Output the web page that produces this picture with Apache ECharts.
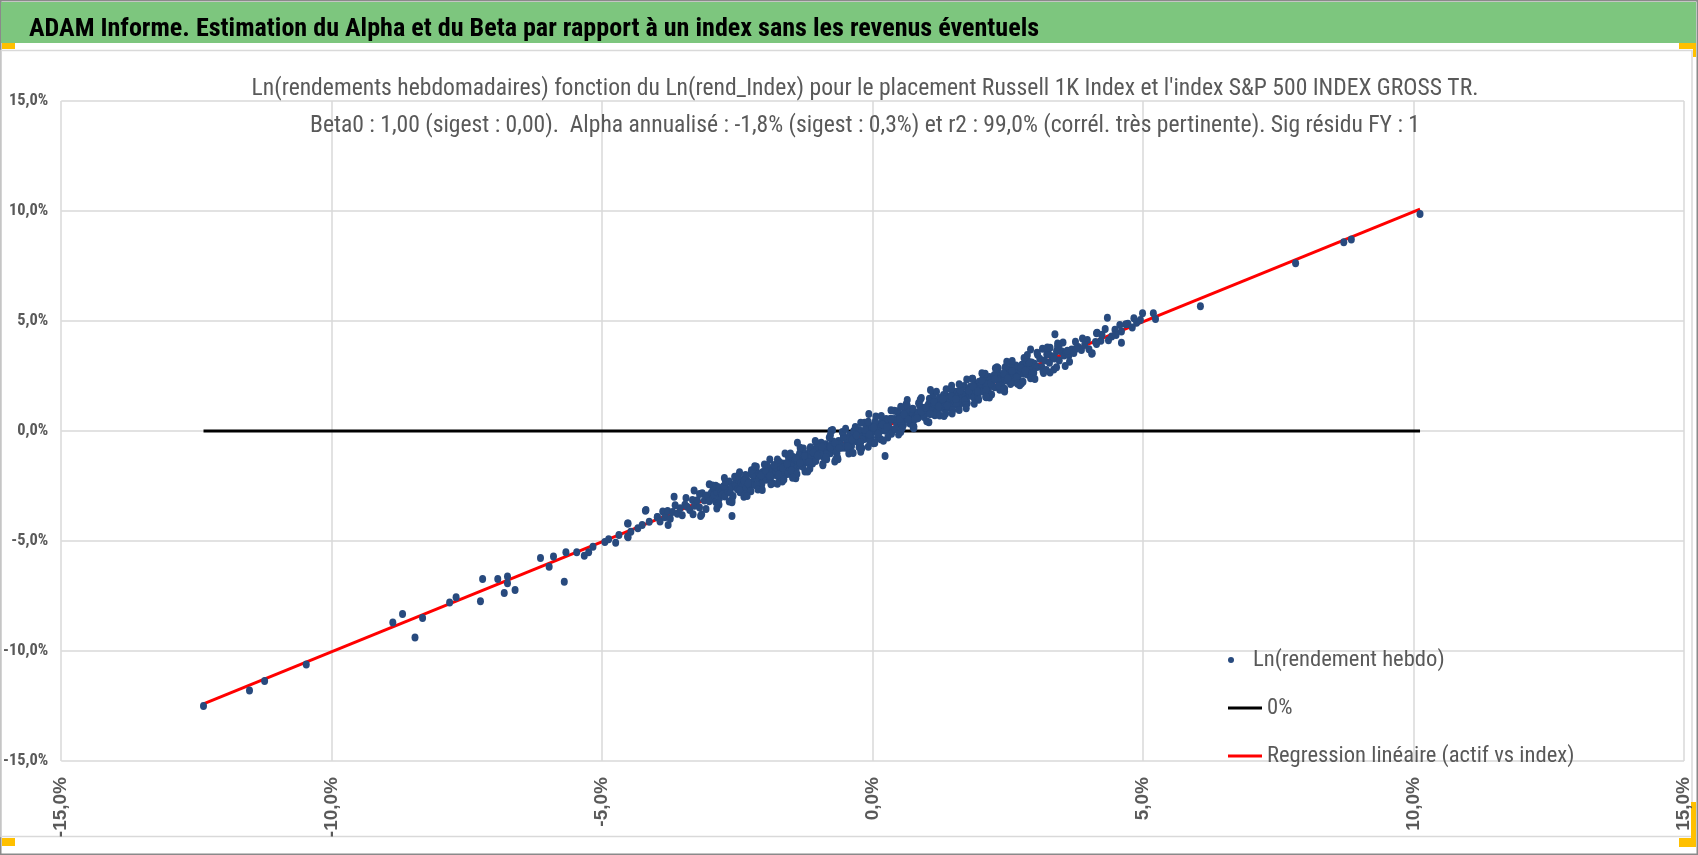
<!DOCTYPE html>
<html>
<head>
<meta charset="utf-8">
<script src="https://cdn.jsdelivr.net/npm/echarts@6/dist/echarts.min.js"></script>
<style>
html,body{margin:0;padding:0;background:#fff;}
#chart{width:1698px;height:855px;}
</style>
</head>
<body>
<div id="chart"></div>
<script>
// ---- data (weekly log-returns in %) ----
const mainTitle = "ADAM Informe. Estimation du Alpha et du Beta par rapport à un index sans les revenus éventuels";
const subTitleLines = [
  "Ln(rendements hebdomadaires) fonction du Ln(rend_Index) pour le placement Russell 1K Index et l'index S&P 500 INDEX GROSS TR.",
  "Beta0 : 1,00 (sigest : 0,00).  Alpha annualisé : -1,8% (sigest : 0,3%) et r2 : 99,0% (corrél. très pertinente). Sig résidu FY : 1"
];
const seriesNames = ["Ln(rendement hebdo)", "0%", "Regression linéaire (actif vs index)"];
const axisTicks = [-15, -10, -5, 0, 5, 10, 15];
const beta = 1.00;
const alphaAnnual = -1.8;

const lowTail = [
[-12.37,-12.50],[-11.52,-11.80],[-11.24,-11.36],[-10.47,-10.61],[-8.87,-8.70],[-8.69,-8.32],[-8.46,-9.39],[-8.32,-8.50],
[-7.82,-7.80],[-7.70,-7.56],[-7.25,-7.74],[-7.21,-6.73],[-6.93,-6.73],[-6.75,-6.61],[-6.75,-6.92],[-6.81,-7.36],[-6.61,-7.23],
[-6.14,-5.77],[-5.98,-6.17],[-5.90,-5.71],[-5.70,-6.85],[-5.67,-5.51],[-5.47,-5.51],[-5.33,-5.67],[-5.25,-5.51],[-5.17,-5.26],
[-4.95,-5.05],[-4.88,-4.92],[-4.75,-5.08],[-4.69,-4.73],[-4.52,-4.20],[-4.52,-4.83],[-4.47,-4.58],[-4.34,-4.42],[-4.26,-4.27],
[-4.20,-3.62],[-4.13,-4.12],[-3.98,-3.92],[-4.53,-4.20],[-4.53,-4.80],[-4.19,-3.59],[-3.78,-4.27],[-3.67,-2.99],[-3.18,-3.86],
[-2.60,-3.86],[-2.38,-2.99],[-1.67,-2.30],[-1.42,-2.15],[-0.70,-1.39],[-0.77,0.01],[-2.90,-2.49],[-1.56,-1.14],[-1.39,-0.53],
[-0.74,0.05],[-0.22,-0.94],[0.02,-0.56],[0.23,-1.14],[-0.07,0.77]
];
const bandLow = [
[-3.98,-3.91],[-3.93,-4.11],[-3.88,-3.66],[-3.84,-3.92],[-3.79,-3.64],[-3.74,-3.99],[-3.70,-3.68],[-3.65,-3.38],[-3.61,-3.76],
[-3.56,-3.51],[-3.52,-3.83],[-3.47,-3.35],[-3.43,-3.44],[-3.38,-3.59],[-3.33,-3.14],[-3.29,-3.40],[-3.24,-3.15],[-3.20,-3.48],
[-3.15,-2.83],[-3.11,-3.16],[-3.06,-2.93],[-3.02,-3.19],
[-2.98,-2.81],[-2.95,-3.08],[-2.93,-2.91],[-2.90,-3.23],[-2.88,-2.76],[-2.85,-2.56],[-2.83,-3.04],[-2.80,-2.81],[-2.78,-2.89],
[-2.75,-2.53],[-2.73,-2.98],[-2.70,-2.61],[-2.68,-2.73],[-2.65,-2.30],[-2.63,-2.81],[-2.60,-2.55],[-2.58,-2.96],[-2.55,-2.40],
[-2.53,-2.52],[-2.50,-2.65],[-2.48,-2.23],[-2.45,-2.68],[-2.43,-2.36],[-2.40,-2.48],[-2.38,-2.19],[-2.35,-2.66],[-2.33,-2.22],
[-2.30,-2.33],[-2.28,-2.47],[-2.25,-1.94],[-2.23,-2.34],[-2.20,-2.05],[-2.18,-2.45],[-2.15,-2.12],[-2.13,-1.90],[-2.10,-2.25],
[-2.08,-1.99],[-2.05,-2.38],[-2.03,-1.86],[-2.01,-2.08],
[-1.99,-1.87],[-1.97,-2.22],[-1.95,-1.93],[-1.93,-1.66],[-1.91,-2.04],[-1.89,-2.24],[-1.87,-1.70],[-1.85,-1.86],[-1.83,-2.00],
[-1.81,-1.58],[-1.79,-1.88],[-1.77,-1.68],[-1.75,-2.06],[-1.73,-1.40],[-1.71,-1.92],[-1.69,-1.64],[-1.67,-1.48],[-1.65,-1.70],
[-1.63,-1.90],[-1.61,-1.48],[-1.59,-1.58],[-1.57,-1.96],[-1.55,-1.30],[-1.53,-1.68],[-1.51,-1.44],[-1.49,-1.72],[-1.47,-1.18],
[-1.45,-1.52],[-1.43,-1.28],[-1.41,-1.70],[-1.39,-1.36],[-1.37,-1.16],[-1.35,-1.54],[-1.33,-1.44],[-1.31,-0.94],[-1.29,-1.62],
[-1.27,-1.16],[-1.25,-1.28],[-1.23,-1.38],[-1.21,-1.04],[-1.19,-1.44],[-1.17,-1.12],[-1.15,-0.88],[-1.13,-1.22],[-1.11,-1.48],
[-1.09,-1.00],[-1.07,-0.84],[-1.05,-1.26],[-1.03,-1.04],[-1.01,-1.14]
];
const bandMid = [
[-0.99,-0.84],[-0.96,-1.11],[-0.93,-0.91],[-0.90,-1.21],[-0.87,-0.60],[-0.84,-0.91],[-0.81,-0.70],[-0.78,-1.01],[-0.75,-0.54],
[-0.72,-0.83],[-0.69,-0.70],[-0.66,-1.01],[-0.63,-0.46],[-0.60,-0.53],[-0.57,-0.76],[-0.54,-0.21],[-0.51,-0.76],[-0.48,-0.45],
[-0.45,-0.58],[-0.42,-0.17],[-0.39,-0.68],[-0.36,-0.27],[-0.33,-0.36],[-0.30,-0.47],[-0.27,-0.08],[-0.24,-0.57],[-0.21,-0.08],
[-0.18,-0.17],[-0.15,-0.36],[-0.12,0.19],[-0.09,-0.18],[-0.06,0.01],[-0.03,-0.30],[0.00,0.23],[0.03,-0.02],[0.06,0.17],
[0.09,-0.30],[0.12,0.29],[0.15,0.20],[0.18,0.03],[0.21,0.48],[0.24,0.01],[0.27,0.26],[0.30,0.19],[0.33,0.54],[0.36,0.05],
[0.39,0.52],[0.42,0.45],[0.45,0.26],[0.48,0.83],[0.51,0.38],[0.54,0.63],[0.57,0.28],[0.60,0.79],[0.63,0.56],[0.66,0.81],
[0.69,0.34],[0.72,0.77],[0.75,0.98],[0.78,0.61],[0.81,0.82],[0.84,0.59],[0.87,1.16],[0.90,0.81],[0.93,1.04],[0.96,0.75],[0.99,1.06],
[-0.97,-1.06],[-0.91,-0.72],[-0.85,-1.06],[-0.79,-0.72],[-0.73,-0.48],[-0.67,-0.94],[-0.61,-0.60],[-0.55,-0.70],[-0.49,-0.34],
[-0.43,-0.76],[-0.37,-0.26],[-0.31,-0.36],[-0.25,0.04],[-0.19,-0.38],[-0.13,-0.08],[-0.07,-0.36],[-0.01,0.16],[0.05,0.02],
[0.11,-0.12],[0.17,0.40],[0.23,0.10],[0.29,0.38],[0.35,-0.02],[0.41,0.54],[0.47,0.50],[0.53,0.36],[0.59,0.86],[0.65,0.54],
[0.71,0.90],[0.77,0.52],[0.83,0.82],[0.89,1.04],[0.95,0.80]
];
const bandHigh = [
[1.01,0.86],[1.03,1.20],[1.05,1.06],[1.07,0.78],[1.09,1.36],[1.11,1.00],[1.13,1.24],[1.15,0.78],[1.17,1.36],[1.19,1.16],
[1.21,1.00],[1.23,1.48],[1.25,1.18],[1.27,1.34],[1.29,1.04],[1.31,1.64],[1.33,1.16],[1.35,1.38],[1.37,1.58],[1.39,1.06],
[1.41,1.50],[1.43,1.34],[1.45,1.60],[1.47,1.20],[1.49,1.78],[1.51,1.38],[1.53,1.52],[1.55,1.78],[1.57,1.34],[1.59,1.64],
[1.61,1.22],[1.63,1.76],[1.65,1.66],[1.67,1.52],[1.69,2.04],[1.71,1.66],[1.73,1.42],[1.75,1.92],[1.77,1.84],[1.79,1.60],
[1.81,2.02],[1.83,1.72],[1.85,1.96],[1.87,1.52],[1.89,2.14],[1.91,1.84],[1.93,1.96],[1.95,1.72],[1.97,2.24],[1.99,1.86],
[2.01,2.12],[2.04,1.81],[2.06,2.29],[2.09,2.00],[2.11,2.16],[2.14,1.81],[2.16,2.45],[2.19,2.18],[2.21,2.04],[2.24,2.41],
[2.26,1.99],[2.29,2.36],[2.31,2.64],[2.34,2.21],[2.36,2.37],[2.39,2.08],[2.41,2.56],[2.44,2.39],[2.46,2.67],[2.49,2.28],
[2.51,2.54],[2.54,2.81],[2.56,2.41],[2.59,2.22],[2.61,2.74],[2.64,2.61],[2.66,2.85],[2.69,2.44],[2.71,2.80],[2.74,2.65],
[2.76,3.01],[2.79,2.60],[2.81,2.86],[2.84,3.15],[2.86,2.57],[2.89,3.00],[2.91,2.84],[2.94,3.11],[2.96,2.79],[2.99,3.06],
[3.04,2.91],[3.09,3.28],[3.13,2.90],[3.18,3.21],[3.22,3.49],[3.27,3.10],[3.31,3.40],[3.36,3.29],[3.40,3.63],[3.45,3.20],
[3.49,3.62],[3.54,3.43],[3.58,3.59],[3.63,3.44],[3.68,3.70],[3.72,3.55],[3.80,3.82],[3.86,3.68],[4.22,4.10],[4.42,4.30]
];
const bandWide = [
[-2.95,-2.53],[-2.85,-3.28],[-2.75,-2.50],[-2.65,-3.20],[-2.55,-2.08],[-2.45,-2.78],[-2.35,-2.00],[-2.25,-2.74],[-2.15,-1.63],
[-2.05,-2.43],[-1.95,-1.56],[-1.85,-2.38],[-1.75,-1.46],[-1.65,-2.12],[-1.55,-1.10],[-1.45,-1.86],[-1.35,-1.02],[-1.25,-1.84],
[-1.15,-0.74],[-1.05,-1.36],[-0.95,-0.53],[-0.85,-1.28],[-0.75,-0.50],[-0.65,-1.20],[-0.55,-0.08],[-0.45,-0.78],[-0.35,0.00],
[-0.25,-0.74],[-0.15,0.37],[-0.05,-0.43],[0.05,0.44],[0.15,-0.38],[0.25,0.54],[0.35,-0.12],[0.45,0.90],[0.55,0.14],[0.65,0.98],
[0.75,0.16],[0.85,1.26],[0.95,0.64],[1.05,1.47],[1.15,0.72],[1.25,1.50],[1.35,0.80],[1.45,1.92],[1.55,1.22],[1.65,2.00],
[1.75,1.26],[1.85,2.37],[1.95,1.57],[2.05,2.44],[2.15,1.62],[2.25,2.54],[2.35,1.88],[2.45,2.90],[2.55,2.14],[2.65,2.98],
[2.75,2.16],[2.85,3.26],[2.95,2.64],[3.05,3.47],[3.15,2.72],[3.25,3.50],[3.35,2.80],[3.45,3.92]
];
const bandFill = [
[-2.46,-2.69],[-2.38,-2.26],[-2.30,-2.38],[-2.22,-2.00],[-2.14,-2.47],[-2.06,-2.01],[-1.98,-1.81],[-1.90,-2.05],[-1.82,-1.55],
[-1.74,-1.99],[-1.66,-1.67],[-1.58,-1.49],[-1.50,-1.79],[-1.42,-1.23],[-1.34,-1.45],[-1.26,-1.11],[-1.18,-1.41],[-1.10,-0.98],
[-1.02,-1.10],[-0.94,-0.72],[-0.86,-1.19],[-0.78,-0.73],[-0.70,-0.53],[-0.62,-0.77],[-0.54,-0.27],[-0.46,-0.71],[-0.38,-0.39],
[-0.30,-0.21],[-0.22,-0.51],[-0.14,0.05],[-0.06,-0.17],[0.02,0.17],[0.10,-0.13],[0.18,0.30],[0.26,0.18],[0.34,0.56],[0.42,0.09],
[0.50,0.55],[0.58,0.75],[0.66,0.51],[0.74,1.01],[0.82,0.57],[0.90,0.89],[0.98,1.07],[1.06,0.77],[1.14,1.33],[1.22,1.11],
[1.30,1.45],[1.38,1.15],[1.46,1.58],[1.54,1.46],[1.62,1.84],[1.70,1.37],[1.78,1.83],[1.86,2.03],[1.94,1.79],[2.02,2.29],
[2.10,1.85],[2.18,2.17],[2.26,2.35],[2.34,2.05],[2.42,2.61],[2.50,2.39],[2.58,2.73],[2.66,2.43],[2.74,2.86],[2.82,2.74],
[2.90,3.12],[2.98,2.65]
];
const bandEdge = [
[-3.45,-3.05],[-3.32,-3.78],[-3.20,-2.86],[-3.08,-3.55],[-2.96,-2.48],[-2.84,-3.35],[-2.72,-2.30],[-2.60,-3.12],[-2.48,-2.02],
[-2.36,-2.90],[-2.24,-1.78],[-2.12,-2.66],[-2.00,-1.52],[-1.88,-2.42],[-1.76,-1.30],[-1.64,-2.20],[-1.52,-1.02],[-1.40,-1.96],
[-1.28,-0.80],[-1.16,-1.72],[-1.04,-0.55],[-0.92,-1.50],[-0.80,-0.30],[-0.68,-1.28],[-0.56,-0.05],[-0.44,-1.02],[-0.32,0.18],
[-0.20,-0.78],[-0.08,0.42],[0.04,-0.55],[0.16,0.68],[0.28,-0.30],[0.40,0.92],[0.52,-0.05],[0.64,1.15],[0.76,0.20],[0.88,1.42],
[1.00,0.44],[1.12,1.66],[1.24,0.70],[1.36,1.90],[1.48,0.95],[1.60,2.12],[1.72,1.18],[1.84,2.38],[1.96,1.42],[2.08,2.60],
[2.20,1.66],[2.32,2.85],[2.44,1.92],[2.56,3.08],[2.68,2.15],[2.80,3.32],[2.92,2.40],[3.04,3.56],[3.16,2.64],[3.28,3.78],
[3.40,2.90],[3.52,4.02],[3.64,3.15],[3.76,3.74],[3.88,4.20],[4.00,3.72],[4.12,4.05],[4.24,4.38],[4.36,4.12],[4.48,4.60],
[4.60,4.52],[4.72,4.88]
];
const bandOuter = [
[-3.30,-2.70],[-3.16,-3.80],[-3.02,-2.42],[-2.88,-3.52],[-2.74,-2.14],[-2.60,-3.24],[-2.46,-1.88],[-2.32,-2.96],[-2.18,-1.60],
[-2.04,-2.68],[-1.90,-1.30],[-1.76,-2.40],[-1.62,-1.02],[-1.48,-2.12],[-1.34,-0.76],[-1.20,-1.84],[-1.06,-0.46],[-0.92,-1.56],
[-0.78,-0.18],[-0.64,-1.28],[-0.50,0.10],[-0.36,-1.00],[-0.22,0.38],[-0.08,-0.72],[0.06,0.66],[0.20,-0.44],[0.34,0.94],
[0.48,-0.16],[0.62,1.22],[0.76,0.12],[0.90,1.50],[1.04,0.40],[1.18,1.78],[1.32,0.68],[1.46,2.06],[1.60,0.96],[1.74,2.34],
[1.88,1.24],[2.02,2.62],[2.16,1.52],[2.30,2.90],[2.44,1.80],[2.58,3.18],[2.72,2.08],[2.86,3.46],[3.00,2.36],[3.14,3.74],
[3.28,2.66],[3.42,3.98],[3.56,2.96]
];
const highTail = [
[1.47,0.80],[1.73,1.03],[1.07,1.86],[2.09,1.56],[2.42,1.86],[2.78,2.24],[2.27,2.85],[2.48,3.15],[2.92,3.71],[3.23,3.80],
[0.52,1.10],[0.64,1.41],[0.76,0.20],[3.21,2.77],[2.10,1.53],[4.15,4.47],[4.06,3.53],
[10.12,9.86],[8.71,8.58],[8.85,8.71],[7.82,7.62],[6.06,5.67],[5.23,5.09],[5.19,5.35],[4.99,5.35],[4.95,5.05],[4.88,4.92],
[4.83,5.12],[4.80,4.71],[4.68,4.85],[4.57,4.82],[4.60,4.01],[4.34,5.15],[4.30,4.64],[4.50,4.36],[4.14,4.44],[4.14,3.95],
[4.05,3.51],[3.97,4.14],[3.92,3.91],[3.75,4.06],[3.37,4.40],[3.42,3.83],[3.60,3.65],[3.35,3.38]
];

// ---- build ----
const points = [].concat(lowTail, bandLow, bandMid, bandHigh, bandWide, bandFill, bandEdge, bandOuter, highTail);
const xs = points.map(p => p[0]);
const xMin = Math.min.apply(null, xs);
const xMax = Math.max.apply(null, xs);
const alphaWeekly = alphaAnnual / 52;
const zeroLine = [[xMin, 0], [xMax, 0]];
const regLine = [[xMin, beta * xMin + alphaWeekly], [xMax, beta * xMax + alphaWeekly]];

const FN = "'Liberation Sans Narrow','Roboto Condensed','DejaVu Sans Condensed',sans-serif";
const cv = document.createElement('canvas').getContext('2d');
function fit(text, weight, base, target) {
  cv.font = weight + ' ' + base + 'px ' + FN;
  const w = cv.measureText(text).width;
  return Math.round(base * target / w * 10) / 10;
}
const titleSize = fit(mainTitle, 'bold', 24, 1010);
const subSize = fit(subTitleLines[0], 'normal', 24, 1228);
const legSize = fit(seriesNames[2], 'normal', 24, 308);
const yLabSize = fit('-15,0%', 'normal', 16, 42);

const fmt = v => v.toFixed(1).replace('.', ',') + '%';
const GRAY = '#595959';
const YEL = '#FFC000';
const legText = {fontFamily: FN, fontSize: legSize, color: GRAY, lineHeight: 28};

const chart = echarts.init(document.getElementById('chart'), null, {renderer: 'canvas'});
chart.setOption({
  animation: false,
  backgroundColor: '#ffffff',
  graphic: [
    {type: 'rect', z: -10, silent: true, shape: {x: 0.5, y: 0.5, width: 1697, height: 854}, style: {fill: '#fff', stroke: '#8a8a8a', lineWidth: 2}},
    {type: 'rect', z: -9, silent: true, shape: {x: 1, y: 2, width: 1695, height: 41}, style: {fill: '#7DC67E'}},
    {type: 'rect', z: -9, silent: true, shape: {x: 1, y: 50.5, width: 1691, height: 786}, style: {fill: 'none', stroke: '#d9d9d9', lineWidth: 1.5}},
    {type: 'rect', z: -8, silent: true, shape: {x: 2, y: 43, width: 13, height: 6}, style: {fill: YEL}},
    {type: 'rect', z: -8, silent: true, shape: {x: 1679, y: 43, width: 17, height: 6}, style: {fill: YEL}},
    {type: 'rect', z: -8, silent: true, shape: {x: 1693, y: 43, width: 3, height: 14}, style: {fill: YEL}},
    {type: 'rect', z: -8, silent: true, shape: {x: 2, y: 838, width: 13, height: 8}, style: {fill: YEL}},
    {type: 'rect', z: -8, silent: true, shape: {x: 1679, y: 838, width: 17, height: 9}, style: {fill: YEL}},
    {type: 'rect', z: -8, silent: true, shape: {x: 1691, y: 802, width: 5, height: 45}, style: {fill: YEL}}
  ],
  title: [
    {text: mainTitle, left: 24, top: 10,
     textStyle: {fontFamily: FN, fontSize: titleSize, fontWeight: 'bold', color: '#000', lineHeight: 28}},
    {text: subTitleLines.join('\n'), left: 860, top: 66, textAlign: 'center',
     textStyle: {fontFamily: FN, fontSize: subSize, fontWeight: 'normal', color: GRAY, lineHeight: 37}}
  ],
  legend: [
    {orient: 'vertical', left: 1223, top: 641, itemWidth: 34, itemHeight: 6,
     data: [{name: seriesNames[0], icon: 'circle'}], textStyle: legText},
    {orient: 'vertical', left: 1223, top: 689, itemWidth: 34, itemHeight: 3,
     data: [{name: seriesNames[1], icon: 'rect'}], textStyle: legText},
    {orient: 'vertical', left: 1223, top: 737, itemWidth: 34, itemHeight: 3,
     data: [{name: seriesNames[2], icon: 'rect'}], textStyle: legText}
  ],
  grid: {left: 60, right: 14, top: 101, bottom: 94, containLabel: false},
  xAxis: {
    type: 'value', min: axisTicks[0], max: axisTicks[axisTicks.length - 1], interval: 5,
    axisLine: {show: false}, axisTick: {show: false},
    splitLine: {show: true, lineStyle: {color: '#d9d9d9', width: 1.5}},
    axisLabel: {rotate: 90, margin: 16, formatter: fmt, color: GRAY, fontSize: 19, fontWeight: 'bold', fontFamily: "'Liberation Sans','DejaVu Sans',sans-serif"}
  },
  yAxis: {
    type: 'value', min: axisTicks[0], max: axisTicks[axisTicks.length - 1], interval: 5,
    axisLine: {show: false}, axisTick: {show: false},
    splitLine: {show: true, lineStyle: {color: '#d9d9d9', width: 1.5}},
    axisLabel: {margin: 13, formatter: fmt, color: GRAY, fontSize: yLabSize, fontWeight: 'bold', fontFamily: FN}
  },
  series: [
    {name: seriesNames[1], type: 'line', data: zeroLine, symbol: 'none', z: 2,
     lineStyle: {color: '#000', width: 3}, itemStyle: {color: '#000'}},
    {name: seriesNames[2], type: 'line', data: regLine, symbol: 'none', z: 2,
     lineStyle: {color: '#FF0000', width: 3}, itemStyle: {color: '#FF0000'}},
    {name: seriesNames[0], type: 'scatter', data: points, symbolSize: [7, 8], z: 3,
     itemStyle: {color: '#284A7E', opacity: 1}}
  ]
});
</script>
</body>
</html>
